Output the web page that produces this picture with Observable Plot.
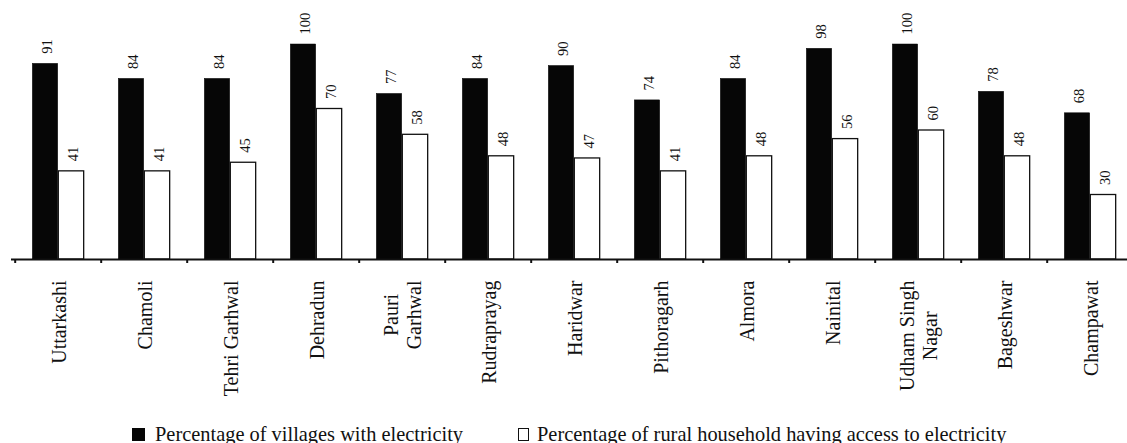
<!DOCTYPE html>
<html>
<head>
<meta charset="utf-8">
<script src="https://cdn.jsdelivr.net/npm/d3@7"></script>
<script src="https://cdn.jsdelivr.net/npm/@observablehq/plot@0.6"></script>
<style>
  html, body { margin: 0; padding: 0; background: #fff; }
  #chart svg { display: block; }
  #legend {
    position: relative;
    width: 1127px;
    height: 18px;
    font-family: "Liberation Serif", serif;
    font-size: 20.4px;
    line-height: 18px;
    color: #111;
  }
  #legend .item { position: absolute; top: 0; white-space: nowrap; display: flex; align-items: center; }
  #legend .swatch { display: inline-block; width: 13px; height: 13px; box-sizing: border-box; margin-right: 10px; }
</style>
</head>
<body>
<div id="chart"></div>
<div id="legend"></div>
<script>
// Districts of Uttarakhand, in display order
const districts = [
  "Uttarkashi", "Chamoli", "Tehri Garhwal", "Dehradun", "Pauri Garhwal",
  "Rudraprayag", "Haridwar", "Pithoragarh", "Almora", "Nainital",
  "Udham Singh Nagar", "Bageshwar", "Champawat"
];
// Tick labels as printed under the axis (with line breaks)
const tickLabels = [
  "Uttarkashi", "Chamoli", "Tehri Garhwal", "Dehradun", "Pauri\nGarhwal",
  "Rudraprayag", "Haridwar", "Pithoragarh", "Almora", "Nainital",
  "Udham Singh\nNagar", "Bageshwar", "Champawat"
];
// Percentage of villages with electricity
const villages = [91, 84, 84, 100, 77, 84, 90, 74, 84, 98, 100, 78, 68];
// Percentage of rural households having access to electricity
const households = [41, 41, 45, 70, 58, 48, 47, 41, 48, 56, 60, 48, 30];
// Series names for the legend
const seriesNames = [
  "Percentage of villages with electricity",
  "Percentage of rural household having access to electricity"
];

const rows = districts.map((d, i) => ({
  district: d,
  label: tickLabels[i],
  villages: villages[i],
  households: households[i]
}));

const xRange = [11, 1137];
const step = (xRange[1] - xRange[0]) / districts.length;
const barW = step * 0.3;

const chart = Plot.plot({
  width: 1127,
  height: 425,
  marginLeft: 11,
  marginRight: 0,
  marginTop: 0,
  marginBottom: 0,
  style: { fontFamily: "Liberation Serif, serif", background: "#fff", color: "#111" },
  x: { type: "band", domain: districts, range: xRange, padding: 0, axis: null },
  y: { domain: [0, 100], range: [259, 44], axis: null },
  marks: [
    // villages (black) on the left half of each group
    Plot.barY(rows, {
      x: "district", y: "villages",
      fill: "#060606", stroke: "#060606", strokeWidth: 0.5,
      insetLeft: step * 0.2, insetRight: step * 0.5
    }),
    // households (white, outlined) on the right half
    Plot.barY(rows, {
      x: "district", y: "households",
      fill: "#fff", stroke: "#111", strokeWidth: 1.3,
      insetLeft: step * 0.5, insetRight: step * 0.2
    }),
    // value labels, rotated above each bar
    Plot.text(rows, {
      x: "district", y: "villages", text: (d) => String(d.villages),
      rotate: -90, textAnchor: "start", lineAnchor: "middle",
      dx: -barW / 2 + 2, dy: -10, fontSize: 14.5, fill: "#111"
    }),
    Plot.text(rows, {
      x: "district", y: "households", text: (d) => String(d.households),
      rotate: -90, textAnchor: "start", lineAnchor: "middle",
      dx: barW / 2 + 2, dy: -10, fontSize: 14.5, fill: "#111"
    }),
    // baseline axis
    Plot.ruleY([0], { stroke: "#111", strokeWidth: 2 }),
    // small tick marks between categories
    Plot.ruleX(districts, {
      x: (d) => d, y1: 0, y2: 0, insetBottom: -4,
      dx: -step / 2, stroke: "#111", strokeWidth: 2
    }),
    // rotated category labels
    Plot.text(rows, {
      x: "district", y: 0, text: "label",
      rotate: -90, textAnchor: "end", lineAnchor: "middle",
      dy: 21, fontSize: 20, lineHeight: 1.15, fill: "#111",
      className: "cat-labels"
    })
  ]
});
document.getElementById("chart").appendChild(chart);

// Multi-line category labels: centre the lines on each other,
// keeping the longest line's top end at the common label top.
chart.querySelectorAll(".cat-labels text").forEach((t) => {
  const spans = t.querySelectorAll("tspan");
  if (spans.length < 2) return;
  let longest = 0;
  spans.forEach((s) => { longest = Math.max(longest, s.getComputedTextLength()); });
  const m = /translate\(([^,]+),([^)]+)\)\s*rotate\(([^)]+)\)/.exec(t.getAttribute("transform"));
  if (!m) return;
  const tx = +m[1], ty = +m[2];
  t.setAttribute("text-anchor", "middle");
  t.setAttribute("transform", `translate(${tx},${ty + longest / 2}) rotate(${m[3]})`);
});

// legend below the chart
const legend = document.getElementById("legend");
const legendItems = [
  { name: seriesNames[0], left: 132, fill: "#060606", border: "none" },
  { name: seriesNames[1], left: 518, fill: "#fff", border: "1px solid #111" }
];
for (const it of legendItems) {
  const item = document.createElement("div");
  item.className = "item";
  item.style.left = it.left + "px";
  const sw = document.createElement("span");
  sw.className = "swatch";
  sw.style.background = it.fill;
  sw.style.border = it.border;
  if (it.border !== "none") { sw.style.width = "11px"; sw.style.marginRight = "8px"; }
  item.appendChild(sw);
  item.appendChild(document.createTextNode(it.name));
  legend.appendChild(item);
}
</script>
</body>
</html>
